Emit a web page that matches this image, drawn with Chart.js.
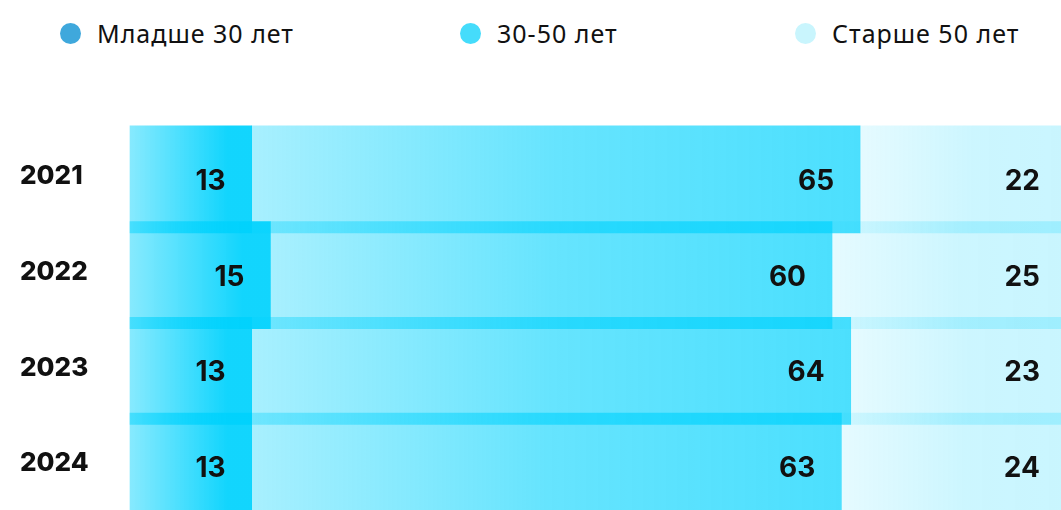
<!DOCTYPE html>
<html>
<head>
<meta charset="utf-8">
<script src="https://cdn.jsdelivr.net/npm/chart.js@4.4.1/dist/chart.umd.min.js"></script>
<style>
  html, body { margin:0; padding:0; background:#fff; width:1061px; height:510px; overflow:hidden; }
  #legend { position:absolute; top:0; left:0; width:1061px; height:70px; font-family:"Noto Sans", sans-serif; font-size:25px; letter-spacing:1px; color:#111; }
  .item { position:absolute; top:20px; display:flex; align-items:center; height:26px; }
  .dot { width:21px; height:21px; border-radius:50%; margin-right:16px; }
  #wrap { position:absolute; top:0; left:0; width:1066px; height:530px; }
</style>
</head>
<body>
<div id="legend"></div>
<div id="wrap"><canvas id="chart" width="1066" height="530"></canvas></div>
<script>
// -------------------------- Data --------------------------
const years = ['2021', '2022', '2023', '2024'];
const seriesNames = ['Младше 30 лет', '30-50 лет', 'Старше 50 лет'];
const under30 = [13, 15, 13, 13];
const from30to50 = [65, 60, 64, 63];
const over50 = [22, 25, 23, 24];
const legendColors = ['#3fa8dc', '#45dcfb', '#c9f5fd'];

// same cyan hue, alpha ramps per segment (left -> right)
const alphaStops = [
  [[0, 0.47], [0.8, 0.93], [1, 0.93]],
  [[0, 0.34], [0.5, 0.60], [1, 0.70]],
  [[0, 0.10], [0.55, 0.20], [1, 0.21]]
];
const allSeries = [under30, from30to50, over50];

// -------------------------- Legend --------------------------
const legendLeft = [60, 460, 795];
const legendEl = document.getElementById('legend');
seriesNames.forEach((name, i) => {
  const it = document.createElement('div');
  it.className = 'item';
  it.style.left = legendLeft[i] + 'px';
  it.innerHTML = `<span class="dot" style="background:${legendColors[i]}"></span><span>${name}</span>`;
  legendEl.appendChild(it);
});

// -------------------------- Chart --------------------------
function segGradient(ctx, dsIndex) {
  const chart = ctx.chart;
  if (!chart.chartArea || ctx.dataIndex === undefined) return 'rgba(0,210,253,0.5)';
  const xs = chart.scales.x;
  let start = 0;
  for (let d = 0; d < dsIndex; d++) start += allSeries[d][ctx.dataIndex];
  const end = start + allSeries[dsIndex][ctx.dataIndex];
  const x0 = xs.getPixelForValue(start), x1 = xs.getPixelForValue(end);
  const g = chart.ctx.createLinearGradient(x0, 0, x1, 0);
  alphaStops[dsIndex].forEach(s => g.addColorStop(s[0], `rgba(0,210,253,${s[1]})`));
  return g;
}

const valueLabels = {
  id: 'valueLabels',
  afterDatasetsDraw(chart) {
    const c = chart.ctx;
    c.save();
    c.font = '700 28px Inter, sans-serif';
    c.fillStyle = '#111';
    c.textAlign = 'right';
    c.textBaseline = 'middle';
    chart.data.datasets.forEach((ds, i) => {
      chart.getDatasetMeta(i).data.forEach((bar, j) => {
        c.fillText(ds.data[j], bar.x - 26, bar.y + 2);
      });
    });
    c.restore();
  }
};

new Chart(document.getElementById('chart'), {
  type: 'bar',
  data: {
    labels: years,
    datasets: allSeries.map((arr, i) => ({
      label: seriesNames[i],
      data: arr,
      backgroundColor: ctx => segGradient(ctx, i),
      borderWidth: 0,
      barThickness: 107,
      clip: false
    }))
  },
  options: {
    indexAxis: 'y',
    responsive: false,
    animation: false,
    layout: { padding: { top: 131.5, left: 20, right: 0, bottom: 5.8 } },
    plugins: { legend: { display: false }, tooltip: { enabled: false } },
    scales: {
      x: { stacked: true, min: 0, max: 100, display: false },
      y: {
        stacked: true,
        grid: { display: false },
        border: { display: false },
        afterFit: s => { s.width = 110; },
        ticks: {
          crossAlign: 'far',
          padding: 0,
          labelOffset: -3,
          color: '#111',
          font: { family: 'Inter', size: 26, weight: '800' }
        }
      }
    }
  },
  plugins: [valueLabels]
});
</script>
</body>
</html>
